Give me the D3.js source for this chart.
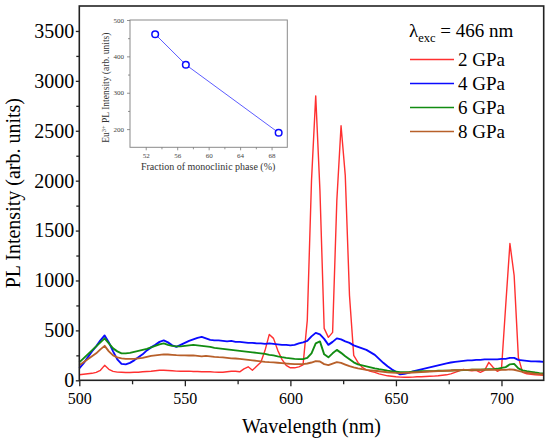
<!DOCTYPE html>
<html>
<head>
<meta charset="utf-8">
<script src="https://cdn.jsdelivr.net/npm/d3@7"></script>
<style>
  body { margin: 0; background: #fff; }
  svg { display: block; }
</style>
</head>
<body>
<div id="chart"></div>
<script>
// sampled every 2 nm
const wavelength = [
  500, 502, 504, 506, 508, 510, 512, 514, 516, 518, 520, 522, 524, 526, 528, 530,
  532, 534, 536, 538, 540, 542, 544, 546, 548, 550, 552, 554, 556, 558, 560, 562,
  564, 566, 568, 570, 572, 574, 576, 578, 580, 582, 584, 586, 588, 590, 592, 594,
  596, 598, 600, 602, 604, 606, 608, 610, 612, 614, 616, 618, 620, 622, 624, 626,
  628, 630, 632, 634, 636, 638, 640, 642, 644, 646, 648, 650, 652, 654, 656, 658,
  660, 662, 664, 666, 668, 670, 672, 674, 676, 678, 680, 682, 684, 686, 688, 690,
  692, 694, 696, 698, 700, 702, 704, 706, 708, 710, 712, 714, 716, 718, 720
];

const pl2GPa = [
  55, 60, 65, 70, 80, 100, 150, 110, 90, 82, 80, 78, 78, 80, 80, 85,
  88, 90, 95, 100, 100, 98, 95, 92, 90, 90, 92, 88, 88, 85, 85, 85,
  82, 80, 80, 85, 90, 90, 85, 115, 135, 100, 140, 180, 300, 460, 420, 300,
  210, 150, 125, 125, 135, 155, 600, 2000, 2850, 1900, 520, 430, 480, 1800, 2550, 2050,
  850, 250, 180, 130, 105, 90, 80, 65, 55, 45, 40, 35, 32, 30, 30, 32,
  35, 35, 38, 40, 42, 45, 50, 55, 65, 80, 95, 110, 100, 95, 100, 80,
  100, 180, 130, 90, 110, 750, 1370, 1050, 230, 80, 65, 60, 55, 52, 50
];

const pl4GPa = [
  120, 170, 230, 290, 340, 400, 450, 380, 290, 210, 165, 160, 175, 200, 230, 260,
  300, 330, 355, 385, 400, 380, 350, 335, 355, 375, 395, 410, 425, 435, 420, 405,
  400, 400, 395, 390, 395, 385, 385, 380, 375, 375, 370, 370, 365, 370, 365, 360,
  355, 355, 350, 355, 370, 380, 395, 440, 475, 460, 415, 355, 385, 420, 410, 390,
  375, 350, 335, 320, 305, 280, 255, 215, 175, 140, 110, 85, 60, 65, 75, 90,
  100, 110, 120, 130, 140, 150, 160, 170, 178, 185, 190, 195, 200, 200, 205, 205,
  210, 210, 210, 210, 215, 215, 225, 225, 205, 200, 195, 190, 190, 188, 185
];

const pl6GPa = [
  180, 220, 260, 300, 340, 380, 420, 370, 320, 290, 270, 270, 275, 285, 295, 305,
  315, 330, 345, 360, 370, 355, 345, 340, 340, 345, 350, 355, 350, 345, 340, 335,
  325, 320, 315, 310, 305, 300, 295, 290, 285, 280, 275, 270, 265, 255, 250, 240,
  232, 225, 220, 215, 212, 212, 225, 270, 370, 390, 260, 230, 270, 305, 275, 240,
  210, 180, 160, 150, 140, 130, 120, 112, 105, 97, 90, 85, 80, 80, 82, 85,
  88, 90, 90, 92, 92, 95, 95, 97, 98, 100, 100, 102, 102, 105, 105, 105,
  108, 110, 112, 115, 125, 132, 160, 165, 120, 100, 92, 85, 78, 72, 68
];

const pl8GPa = [
  150, 180, 210, 240, 270, 310, 345, 290, 250, 230, 220, 215, 215, 215, 220, 225,
  235, 245, 250, 255, 260, 258, 255, 252, 250, 250, 248, 250, 245, 240, 245, 240,
  235, 232, 230, 225, 220, 218, 215, 210, 205, 200, 195, 190, 185, 182, 180, 176,
  172, 168, 165, 162, 162, 162, 168, 178, 192, 188, 162, 152, 168, 182, 175, 158,
  142, 130, 120, 112, 105, 100, 95, 90, 85, 80, 77, 74, 72, 74, 76, 78,
  80, 82, 85, 88, 90, 92, 94, 96, 98, 100, 102, 104, 104, 105, 105, 105,
  105, 105, 105, 104, 104, 105, 110, 106, 95, 85, 78, 72, 66, 62, 58
];

const seriesNames = ["2 GPa", "4 GPa", "6 GPa", "8 GPa"];
const seriesValues = [pl2GPa, pl4GPa, pl6GPa, pl8GPa];
const seriesColors = ["#ff3030", "#0a0aff", "#128c12", "#b8602a"];

const xTicks = [500, 550, 600, 650, 700];
const xMinorTicks = [525, 575, 625, 675];
const yTicks = [0, 500, 1000, 1500, 2000, 2500, 3000, 3500];
const yMinorTicks = [250, 750, 1250, 1750, 2250, 2750, 3250];

// inset
const insetFraction = [53.2, 57.1, 68.9];
const insetIntensity = [461, 377, 190];
const insetXTicks = [52, 56, 60, 64, 68];
const insetXMinorTicks = [54, 58, 62, 66];
const insetYTicks = [200, 300, 400, 500];
const insetYMinorTicks = [250, 350, 450];

const serif = "Liberation Serif";
const w = 550;
const h = 444;
const plot = { left: 79.3, right: 543.7, top: 6, bottom: 380.3 };

const svg = d3.select("#chart").append("svg")
  .attr("width", w).attr("height", h)
  .attr("font-family", serif);

const xScale = d3.scaleLinear().domain([500, 720]).range([plot.left, plot.right]);
const yScale = d3.scaleLinear().domain([0, 3750]).range([plot.bottom, plot.top]);

// spectra
const line = d3.line()
  .x((d) => xScale(d[0]))
  .y((d) => yScale(d[1]));

seriesValues.forEach((vals, i) => {
  const pts = wavelength.map((wl, j) => [wl, vals[j]]);
  svg.append("path")
    .datum(pts)
    .attr("fill", "none")
    .attr("stroke", seriesColors[i])
    .attr("stroke-width", i === 0 ? 1.4 : 1.9)
    .attr("stroke-linejoin", "round")
    .attr("d", line);
});

// frame
svg.append("rect")
  .attr("x", plot.left).attr("y", plot.top)
  .attr("width", plot.right - plot.left).attr("height", plot.bottom - plot.top)
  .attr("fill", "none").attr("stroke", "#222").attr("stroke-width", 1.6);

function styleAxis(g, fontSize) {
  g.attr("font-family", serif).attr("font-size", fontSize);
  g.select(".domain").remove();
  g.selectAll(".tick line").attr("stroke", "#222").attr("stroke-width", 1.3);
  g.selectAll("text").attr("fill", "#000").attr("font-family", serif);
}

const fmt = d3.format("d");

svg.append("g")
  .attr("transform", "translate(0," + plot.bottom + ")")
  .call(d3.axisBottom(xScale).tickValues(xTicks).tickFormat(fmt).tickSize(6).tickPadding(6))
  .call((g) => styleAxis(g, 16));
svg.append("g")
  .attr("transform", "translate(0," + plot.bottom + ")")
  .call(d3.axisBottom(xScale).tickValues(xMinorTicks).tickSize(4).tickFormat(""))
  .call((g) => styleAxis(g, 16));

svg.append("g")
  .attr("transform", "translate(" + plot.left + ",0)")
  .call(d3.axisLeft(yScale).tickValues(yTicks).tickFormat(fmt).tickSize(3.5).tickPadding(1.5))
  .call((g) => styleAxis(g, 20));
svg.append("g")
  .attr("transform", "translate(" + plot.left + ",0)")
  .call(d3.axisLeft(yScale).tickValues(yMinorTicks).tickSize(3).tickFormat(""))
  .call((g) => styleAxis(g, 20));

svg.append("text")
  .attr("x", (plot.left + plot.right) / 2)
  .attr("y", 433)
  .attr("text-anchor", "middle")
  .attr("font-family", serif)
  .attr("font-size", 20)
  .text("Wavelength (nm)");

svg.append("text")
  .attr("transform", "translate(20," + (plot.top + plot.bottom) / 2 + ") rotate(-90)")
  .attr("text-anchor", "middle")
  .attr("font-family", serif)
  .attr("font-size", 20)
  .text("PL Intensity (arb. units)");

// legend
const legend = svg.append("g").attr("font-family", serif).attr("font-size", 19);
const lam = legend.append("text").attr("x", 409).attr("y", 37);
lam.append("tspan").text("λ");
lam.append("tspan").attr("dy", 5).attr("font-size", 12.5).text("exc");
lam.append("tspan").attr("dy", -5).text(" = 466 nm");

seriesNames.forEach((name, i) => {
  const y = 59.5 + i * 24;
  legend.append("line")
    .attr("x1", 410).attr("x2", 454).attr("y1", y).attr("y2", y)
    .attr("stroke", seriesColors[i]).attr("stroke-width", 1.6);
  legend.append("text")
    .attr("x", 458).attr("y", y + 6.5)
    .text(name);
});

// inset
const inset = { left: 130, right: 287.3, top: 20, bottom: 147.3 };
const ix = d3.scaleLinear().domain([50, 70]).range([inset.left, inset.right]);
const iy = d3.scaleLinear().domain([150, 500]).range([inset.bottom, inset.top]);

svg.append("rect")
  .attr("x", inset.left).attr("y", inset.top)
  .attr("width", inset.right - inset.left).attr("height", inset.bottom - inset.top)
  .attr("fill", "#fff").attr("stroke", "#8a8a8a").attr("stroke-width", 1);

function styleInset(g) {
  g.attr("font-family", serif).attr("font-size", 7);
  g.select(".domain").remove();
  g.selectAll(".tick line").attr("stroke", "#777").attr("stroke-width", 0.8);
  g.selectAll("text").attr("fill", "#444");
}

svg.append("g")
  .attr("transform", "translate(0," + inset.bottom + ")")
  .call(d3.axisBottom(ix).tickValues(insetXTicks).tickFormat(fmt).tickSize(3).tickPadding(3))
  .call(styleInset);
svg.append("g")
  .attr("transform", "translate(0," + inset.bottom + ")")
  .call(d3.axisBottom(ix).tickValues(insetXMinorTicks).tickSize(2).tickFormat(""))
  .call(styleInset);
svg.append("g")
  .attr("transform", "translate(" + inset.left + ",0)")
  .call(d3.axisLeft(iy).tickValues(insetYTicks).tickFormat(fmt).tickSize(3).tickPadding(3))
  .call(styleInset);
svg.append("g")
  .attr("transform", "translate(" + inset.left + ",0)")
  .call(d3.axisLeft(iy).tickValues(insetYMinorTicks).tickSize(2).tickFormat(""))
  .call(styleInset);

const insetPts = insetFraction.map((f, i) => [f, insetIntensity[i]]);
svg.append("path")
  .datum(insetPts)
  .attr("fill", "none")
  .attr("stroke", "#5c5cff")
  .attr("stroke-width", 1)
  .attr("d", d3.line().x((d) => ix(d[0])).y((d) => iy(d[1])));

svg.selectAll(".inset-pt")
  .data(insetPts)
  .enter()
  .append("circle")
  .attr("class", "inset-pt")
  .attr("cx", (d) => ix(d[0]))
  .attr("cy", (d) => iy(d[1]))
  .attr("r", 3.3)
  .attr("fill", "#fff")
  .attr("stroke", "#0a0aff")
  .attr("stroke-width", 1.5);

svg.append("text")
  .attr("x", (inset.left + inset.right) / 2 - 0.5)
  .attr("y", 170)
  .attr("text-anchor", "middle")
  .attr("fill", "#333")
  .attr("font-family", serif)
  .attr("font-size", 10)
  .text("Fraction of monoclinic phase (%)");

const iyt = svg.append("text")
  .attr("transform", "translate(109," + ((inset.top + inset.bottom) / 2 + 4) + ") rotate(-90)")
  .attr("text-anchor", "middle")
  .attr("fill", "#333")
  .attr("font-family", serif)
  .attr("font-size", 9.5);
iyt.append("tspan").text("Eu");
iyt.append("tspan").attr("dy", -3.5).attr("font-size", 6.5).text("3+");
iyt.append("tspan").attr("dy", 3.5).text(" PL Intensity (arb. units)");
</script>
</body>
</html>
